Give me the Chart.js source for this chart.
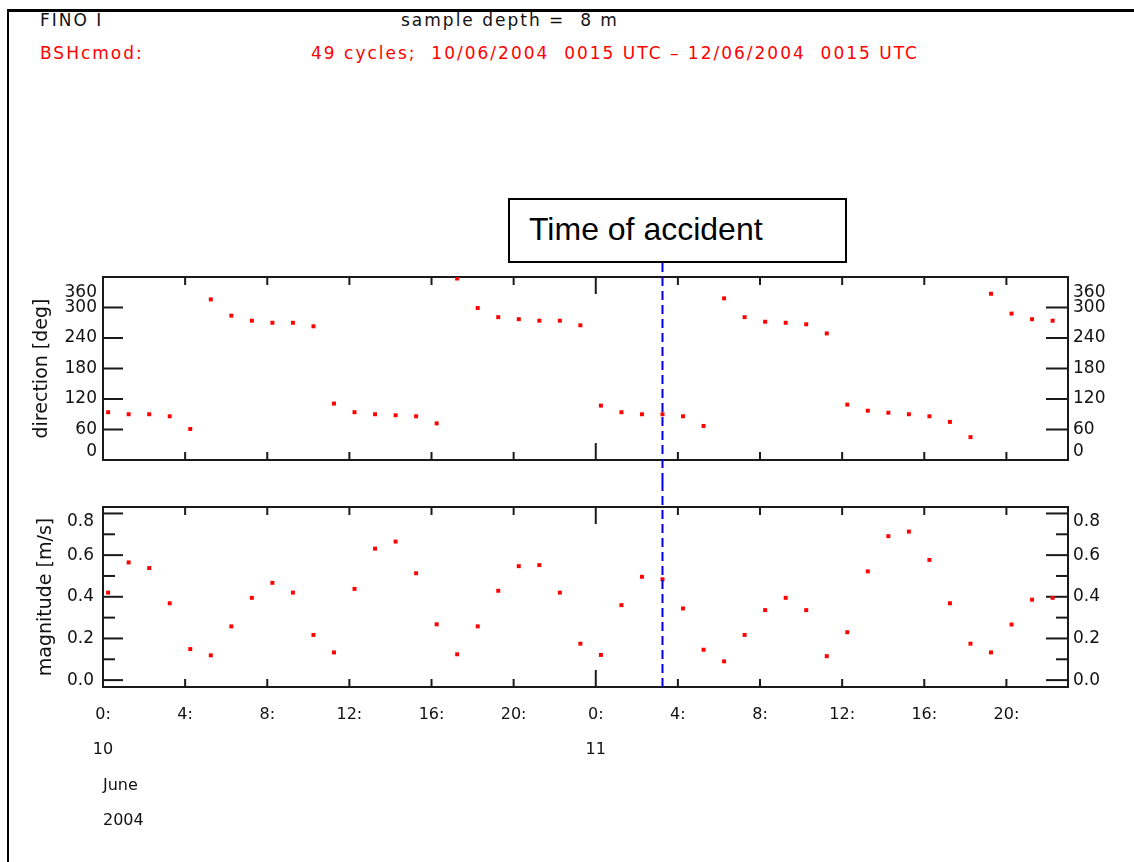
<!DOCTYPE html>
<html>
<head>
<meta charset="utf-8">
<script src="https://cdn.jsdelivr.net/npm/chart.js@4.4.1/dist/chart.umd.min.js"></script>
<style>
html,body{margin:0;padding:0;background:#fff;}
body{width:1134px;height:862px;overflow:hidden;position:relative;font-family:"DejaVu Sans",sans-serif;color:#111;}
#frame{position:absolute;left:7px;top:9px;width:1200px;height:900px;border-top:3px solid #000;border-left:2px solid #000;}
.hdr{position:absolute;font-size:17px;white-space:pre;letter-spacing:2px;line-height:20px;}
.red{color:#ff0000;}
canvas{position:absolute;left:0;}
#c1{top:0;}
#c2{top:482px;}
#box{position:absolute;left:508px;top:198px;width:335px;height:61px;border:2px solid #000;background:#fff;z-index:3;}
#box span{position:absolute;left:19px;top:13px;font-family:"Liberation Sans",Arial,sans-serif;font-size:32px;line-height:1;color:#000;white-space:nowrap;}
</style>
</head>
<body>
<div id="frame"></div>
<div class="hdr" style="left:40px;top:10px;">FINO I</div>
<div class="hdr" style="left:401px;top:10px;">sample depth =  8 m</div>
<div class="hdr red" style="left:40px;top:43px;">BSHcmod:</div>
<div class="hdr red" style="left:311px;top:43px;">49 cycles;  10/06/2004  0015 UTC – 12/06/2004  0015 UTC</div>
<canvas id="c1" width="1134" height="482"></canvas>
<canvas id="c2" width="1134" height="380"></canvas>
<div id="box"><span>Time of accident</span></div>
<script>
// ---------------- data ----------------
const SAMPLE_OFFSET_HOURS = 0.25;          // samples at hh:15 UTC
const X_MAX_HOURS = 47;                    // axis span in hours from 10 June 00:00
const ACCIDENT_HOUR = 27.25;               // 11 June ~03:15
const hourTicks = [0, 4, 8, 12, 16, 20, 24, 28, 32, 36, 40, 44];
const hourTickLabels = ['0:', '4:', '8:', '12:', '16:', '20:', '0:', '4:', '8:', '12:', '16:', '20:'];
const dayTickLabels = ['10', '', '', '', '', '', '11', '', '', '', '', ''];
const dateLines = ['June', '2004'];
const dirTicks = [0, 60, 120, 180, 240, 300, 360];
const magTicks = [0, 0.2, 0.4, 0.6, 0.8];
const magMinorTicks = [0.1, 0.3, 0.5, 0.7];
const direction = [94, 90, 90, 86, 61, 316, 284, 274, 270, 270, 263, 111, 94, 90, 88, 86, 72, 357, 299, 281,
  277, 274, 274, 265, 107, 94, 90, 90, 86, 67, 318, 281, 272, 270, 267, 249, 109, 97, 93, 90,
  86, 75, 45, 327, 288, 277, 274];
const magnitude = [0.42, 0.565, 0.538, 0.369, 0.149, 0.119, 0.258, 0.395, 0.467, 0.42, 0.217, 0.133, 0.438, 0.631, 0.665,
  0.513, 0.268, 0.124, 0.258, 0.429, 0.547, 0.552, 0.42, 0.175, 0.121, 0.36, 0.496, 0.484, 0.344, 0.146,
  0.09, 0.217, 0.336, 0.395, 0.336, 0.115, 0.23, 0.522, 0.691, 0.713, 0.577, 0.369, 0.175, 0.133, 0.267,
  0.386, 0.395];

// ---------------- style ----------------
const FONT = '"DejaVu Sans", sans-serif';
const AXIS_COLOR = '#1a1a1a';
const POINT_COLOR = '#ff0000';
const LINE_COLOR = '#0000ee';

const toPoints = arr => arr.map((v, i) => ({x: i + SAMPLE_OFFSET_HOURS, y: v}));

function line(ctx, x1, y1, x2, y2) { ctx.beginPath(); ctx.moveTo(x1, y1); ctx.lineTo(x2, y2); ctx.stroke(); }

const panelDecor = {
  id: 'panelDecor',
  beforeDatasetsDraw(chart, args, opts) {
    const {ctx, chartArea: a, scales} = chart;
    ctx.save();
    ctx.strokeStyle = AXIS_COLOR;
    ctx.lineWidth = 2;
    ctx.strokeRect(a.left, a.top, a.right - a.left, a.bottom - a.top);
    hourTicks.forEach(h => {
      const px = scales.x.getPixelForValue(h);
      const len = h % 24 === 0 ? 17 : 8;
      line(ctx, px, a.top, px, a.top + len);
      line(ctx, px, a.bottom, px, a.bottom - len);
    });
    (opts.major || []).forEach(v => {
      const py = scales.y.getPixelForValue(v);
      line(ctx, a.left, py, a.left + 20, py);
      line(ctx, a.right, py, a.right - 22, py);
    });
    (opts.minor || []).forEach(v => {
      const py = scales.y.getPixelForValue(v);
      line(ctx, a.left, py, a.left + 12, py);
      line(ctx, a.right, py, a.right - 12, py);
    });
    ctx.restore();
  },
  afterDatasetsDraw(chart, args, opts) {
    const {ctx, chartArea: a, scales} = chart;
    const x = scales.x.getPixelForValue(ACCIDENT_HOUR);
    let yTop = 0;
    if (opts.fromBox) {
      const br = document.getElementById('box').getBoundingClientRect();
      const cr = chart.canvas.getBoundingClientRect();
      yTop = br.bottom - cr.top;
    }
    const yBot = opts.toCanvasBottom ? chart.height : a.bottom;
    ctx.save();
    ctx.strokeStyle = LINE_COLOR;
    ctx.lineWidth = 2;
    ctx.setLineDash([9, 5]);
    line(ctx, x, yTop, x, yBot);
    ctx.restore();
  }
};

function yAxis(position, min, max, tickValues, labelFn, width, padding, title) {
  return {
    type: 'linear', position, min, max,
    afterBuildTicks: s => { s.ticks = tickValues.map(v => ({value: v})); },
    afterFit: s => { s.width = width; },
    grid: {display: false, drawTicks: false},
    border: {display: false},
    ticks: {
      autoSkip: false, padding, color: '#111',
      font: {family: FONT, size: 17, lineHeight: '16px'},
      callback: labelFn
    },
    title: title ? {display: true, text: title.text, color: '#111',
      font: {family: FONT, size: 19}, padding: {top: title.pad, bottom: 0}} : {display: false}
  };
}

const dirLabel = v => v === 360 ? ['', '', '360'] : (v === 0 ? ['0', ''] : String(v));
const magLabel = v => v === 0.8 ? ['', '0.8'] : v.toFixed(1);

const commonDataset = {
  pointStyle: 'rect', pointRadius: 2.8, pointHoverRadius: 2.8,
  backgroundColor: POINT_COLOR, borderColor: POINT_COLOR, borderWidth: 0, showLine: false
};

// ---------------- direction panel ----------------
new Chart(document.getElementById('c1'), {
  type: 'scatter',
  data: {datasets: [Object.assign({label: 'direction', data: toPoints(direction), yAxisID: 'y'}, commonDataset)]},
  options: {
    responsive: false, animation: false, events: [],
    layout: {padding: {top: 277, bottom: 13, left: 0, right: 0}},
    plugins: {legend: {display: false}, tooltip: {enabled: false},
      panelDecor: {major: dirTicks, fromBox: true, toCanvasBottom: true}},
    scales: {
      x: {type: 'linear', min: 0, max: X_MAX_HOURS, display: false},
      y: yAxis('left', 0, 360, dirTicks, dirLabel, 103, 6, {text: 'direction [deg]', pad: 31}),
      y2: yAxis('right', 0, 360, dirTicks, dirLabel, 66, 5, null)
    }
  },
  plugins: [panelDecor]
});

// ---------------- magnitude panel ----------------
new Chart(document.getElementById('c2'), {
  type: 'scatter',
  data: {datasets: [Object.assign({label: 'magnitude', data: toPoints(magnitude), yAxisID: 'y'}, commonDataset)]},
  options: {
    responsive: false, animation: false, events: [],
    layout: {padding: {top: 12, bottom: 0, left: 0, right: 0}},
    plugins: {legend: {display: false}, tooltip: {enabled: false},
      panelDecor: {major: magTicks, minor: magMinorTicks, fromBox: false, toCanvasBottom: false}},
    scales: {
      x: {
        type: 'linear', min: 0, max: X_MAX_HOURS, position: 'bottom',
        afterBuildTicks: s => { s.ticks = hourTicks.map(v => ({value: v})); },
        afterFit: s => { s.height = 175; },
        grid: {display: false, drawTicks: false},
        border: {display: false},
        ticks: {
          autoSkip: false, maxRotation: 0, padding: 10, color: '#111',
          font: {family: FONT, size: 16, lineHeight: '35px'},
          callback: v => {
            const i = hourTicks.indexOf(v);
            return dayTickLabels[i] ? [hourTickLabels[i], dayTickLabels[i]] : hourTickLabels[i];
          }
        },
        title: {display: true, text: dateLines, align: 'start', color: '#111',
          font: {family: FONT, size: 16, lineHeight: '35px'}, padding: {top: 0, bottom: 24}}
      },
      y: yAxis('left', -0.033, 0.831, magTicks, magLabel, 103, 9, {text: 'magnitude [m/s]', pad: 35}),
      y2: yAxis('right', -0.033, 0.831, magTicks, magLabel, 66, 5, null)
    }
  },
  plugins: [panelDecor]
});
</script>
</body>
</html>
